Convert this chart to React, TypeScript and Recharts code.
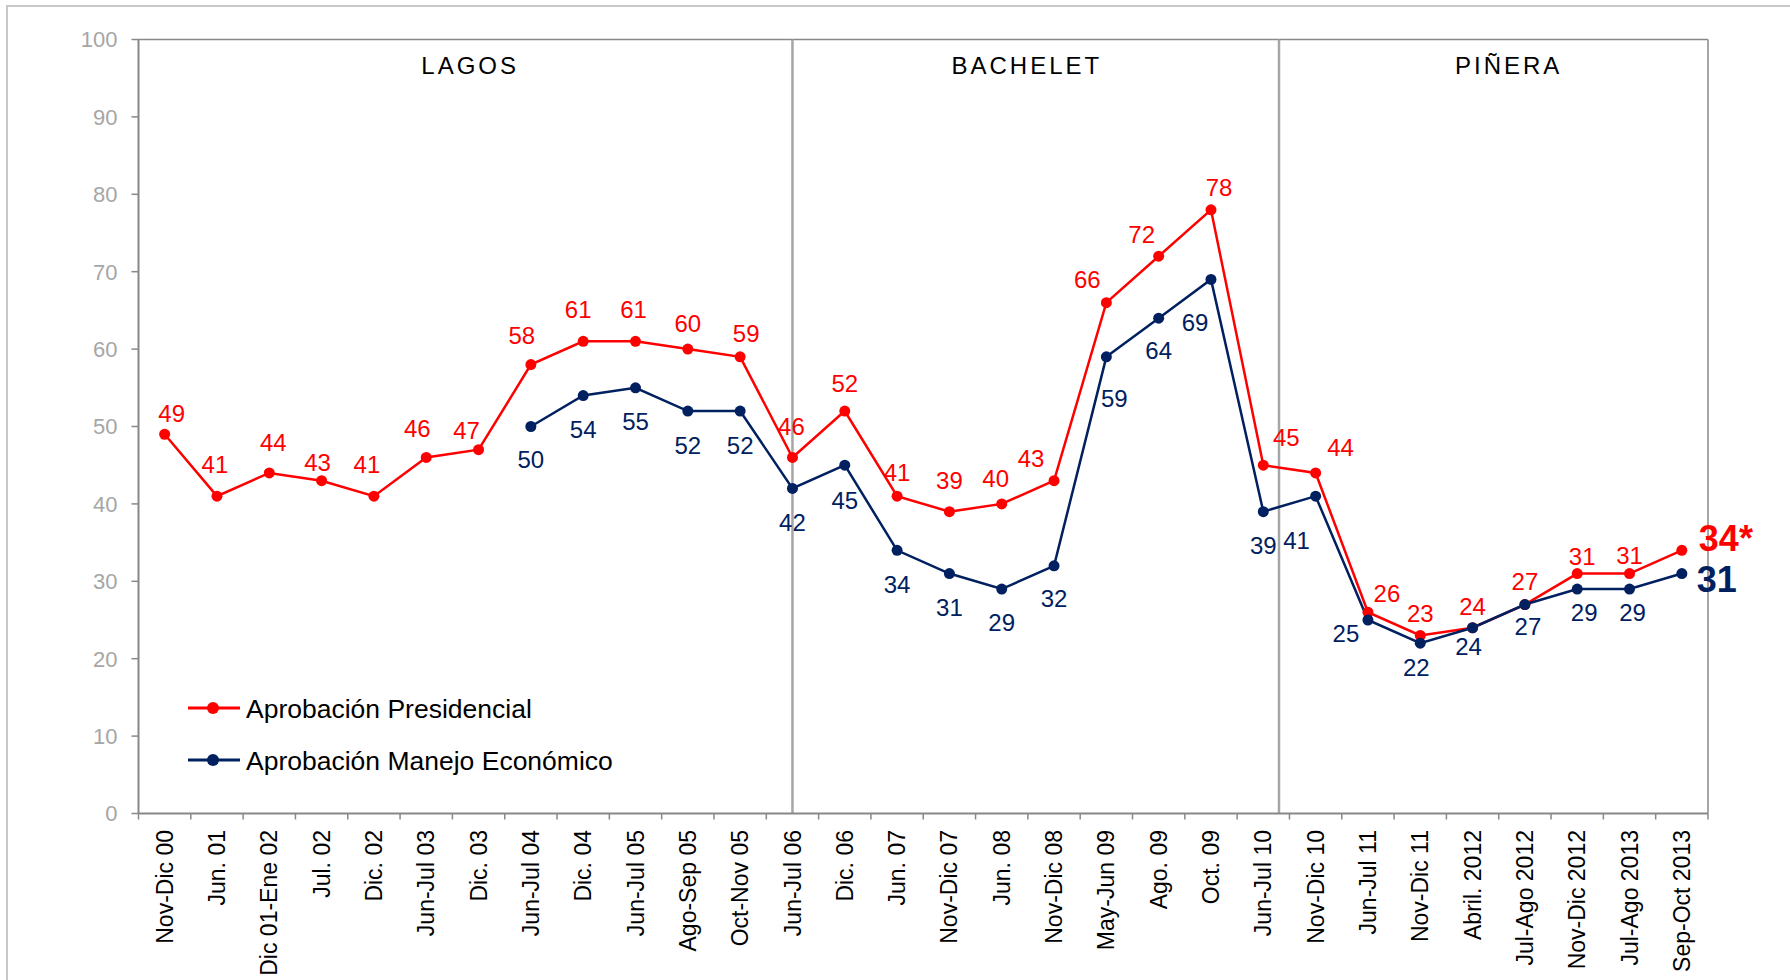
import React from 'react';
import { LineChart, Line, XAxis, YAxis, ReferenceLine, ReferenceDot, LabelList, Legend } from 'recharts';

const categories = [
  'Nov-Dic 00', 'Jun. 01', 'Dic 01-Ene 02', 'Jul. 02', 'Dic. 02', 'Jun-Jul 03', 'Dic. 03',
  'Jun-Jul 04', 'Dic. 04', 'Jun-Jul 05', 'Ago-Sep 05', 'Oct-Nov 05', 'Jun-Jul 06', 'Dic. 06',
  'Jun. 07', 'Nov-Dic 07', 'Jun. 08', 'Nov-Dic 08', 'May-Jun 09', 'Ago. 09', 'Oct. 09',
  'Jun-Jul 10', 'Nov-Dic 10', 'Jun-Jul 11', 'Nov-Dic 11', 'Abril. 2012', 'Jul-Ago 2012',
  'Nov-Dic 2012', 'Jul-Ago 2013', 'Sep-Oct 2013',
];

const presidential = [49, 41, 44, 43, 41, 46, 47, 58, 61, 61, 60, 59, 46, 52, 41, 39, 40, 43, 66, 72, 78, 45, 44, 26, 23, 24, 27, 31, 31, 34];

const economic: (number | null)[] = [null, null, null, null, null, null, null, 50, 54, 55, 52, 52, 42, 45, 34, 31, 29, 32, 59, 64, 69, 39, 41, 25, 22, 24, 27, 29, 29, 31];

const yTicks = [0, 10, 20, 30, 40, 50, 60, 70, 80, 90, 100];

const seriesNames = ['Aprobación Presidencial', 'Aprobación Manejo Económico'];

// x positions are in "band units": category i sits at the centre of band [i, i+1]
const periodNames = ['LAGOS', 'BACHELET', 'PIÑERA'];
const periodCenters = [6.34, 16.98, 26.19];
const periodBreaks = [12.5, 21.8];

// label placement (dx, dy of label centre relative to point), styling only
const presLabelOffsets: [number, number][] = [
  [7, -21], [-2, -32], [4, -31], [-4, -18], [-7, -32], [-9, -29], [-12, -19],
  [-9, -29], [-5, -32], [-2, -32], [0, -26], [6, -23], [-1, -31], [0, -28],
  [0, -24], [0, -31], [-6, -26], [-23, -22], [-19, -23], [-17, -22], [8, -22],
  [23, -28], [25, -26], [19, -19], [0, -22], [0, -21], [0, -23], [5, -17], [0, -18], [17, -12],
];
const econLabelOffsets: [number, number][] = [
  [0, 34], [0, 34], [0, 34], [0, 34], [0, 34], [0, 34], [0, 34],
  [0, 33], [0, 34], [0, 34], [0, 34], [0, 34], [0, 34], [0, 35],
  [0, 34], [0, 34], [0, 33], [0, 33], [8, 42], [0, 32], [-16, 43],
  [0, 34], [-19, 44], [-22, 13], [-4, 24], [-4, 19], [3, 22], [7, 23], [3, 23], [15, 5],
];

const data = categories.map((cat, i) => ({ x: i + 0.5, cat, pres: presidential[i], econ: economic[i] }));

const W = 1790;
const H = 980;
const M_TOP = 39.5;
const M_RIGHT = 82;
const Y_AXIS_W = 138.5;
const X_AXIS_H = 160;
const M_BOTTOM = 6.5;
const PLOT_W = W - Y_AXIS_W - M_RIGHT;
const HALF_BAND = PLOT_W / categories.length / 2;
const X_MIN = 0;
const X_MAX = categories.length;

const RED = '#ff0000';
const NAVY = '#002060';
const AXIS = '#888888';
const SEP = '#a6a6a6';
const FONT = '"Liberation Sans", Arial, sans-serif';

const XTick = (props: any) => {
  const { x, y, payload } = props;
  const idx = Math.round(payload.value - 0.5);
  const label = categories[idx];
  const ty = y + 16.5;
  return (
    <g>
      <line x1={x - HALF_BAND} x2={x - HALF_BAND} y1={y} y2={y + 6} stroke={AXIS} strokeWidth={1.5} />
      {idx === categories.length - 1 && (
        <line x1={x + HALF_BAND} x2={x + HALF_BAND} y1={y} y2={y + 6} stroke={AXIS} strokeWidth={1.5} />
      )}
      <text
        x={x}
        y={ty}
        transform={`rotate(-90 ${x} ${ty})`}
        textAnchor="end"
        dy="0.35em"
        fontSize={23}
        fontFamily={FONT}
        fill="#000"
      >
        {label}
      </text>
    </g>
  );
};

const makeLabel = (offsets: [number, number][], color: string, suffix: string) => (props: any) => {
  const { x, y, value, index } = props;
  if (value == null || x == null || y == null) return null;
  const [dx, dy] = offsets[index] ?? [0, 0];
  const last = index === categories.length - 1;
  if (last) {
    return (
      <text x={x + dx} y={y + dy} dy="0.36em" textAnchor="start" fontSize={36} fontWeight="bold" fontFamily={FONT} fill={color}>
        {value}
        {suffix}
      </text>
    );
  }
  return (
    <text x={x + dx} y={y + dy} dy="0.36em" textAnchor="middle" fontSize={24} fontFamily={FONT} fill={color}>
      {value}
    </text>
  );
};

const LegendContent = () => (
  <svg width={560} height={110} style={{ display: 'block', overflow: 'visible' }}>
    {[RED, NAVY].map((c, k) => (
      <g key={k}>
        <line x1={0} x2={52} y1={25 + k * 52} y2={25 + k * 52} stroke={c} strokeWidth={3} />
        <circle cx={25} cy={25 + k * 52} r={6} fill={c} />
        <text x={58} y={25 + k * 52} dy="0.36em" fontSize={26.5} fontFamily={FONT} fill="#000">
          {seriesNames[k]}
        </text>
      </g>
    ))}
  </svg>
);

export default function App() {
  return (
    <div style={{ position: 'absolute', left: 0, top: 0, width: W, height: H, background: '#fff', fontFamily: FONT }}>
      <div
        style={{
          position: 'absolute',
          left: 6,
          top: 5,
          right: 0,
          bottom: 0,
          borderLeft: '2px solid #c8c8c8',
          borderTop: '2px solid #c8c8c8',
        }}
      />
      <LineChart
        width={W}
        height={H}
        data={data}
        margin={{ top: M_TOP, right: M_RIGHT, left: 0, bottom: M_BOTTOM }}
        style={{ position: 'absolute', left: 0, top: 0 }}
      >
        <XAxis
          dataKey="x"
          type="number"
          domain={[X_MIN, X_MAX]}
          allowDataOverflow
          ticks={categories.map((_, i) => i + 0.5)}
          interval={0}
          height={X_AXIS_H}
          tickSize={0}
          tickMargin={0}
          tickLine={false}
          axisLine={{ stroke: AXIS, strokeWidth: 2 }}
          tick={<XTick />}
        />
        <YAxis
          domain={[0, 100]}
          allowDataOverflow
          ticks={yTicks}
          interval={0}
          width={Y_AXIS_W}
          tickSize={7}
          tickMargin={14}
          tickLine={{ stroke: AXIS, strokeWidth: 1.5 }}
          axisLine={{ stroke: AXIS, strokeWidth: 2 }}
          tick={{ fill: '#a6a6a6', fontSize: 22, fontFamily: FONT }}
        />
        <ReferenceLine y={100} stroke={AXIS} strokeWidth={1.5} ifOverflow="visible" />
        <ReferenceLine x={X_MAX} stroke={AXIS} strokeWidth={1.5} ifOverflow="visible" />
        {periodBreaks.map((b) => (
          <ReferenceLine key={b} x={b} stroke={SEP} strokeWidth={2.5} />
        ))}
        {periodNames.map((name, k) => (
          <ReferenceDot
            key={name}
            x={periodCenters[k]}
            y={96.7}
            r={0}
            fill="none"
            stroke="none"
            label={{ value: name, position: 'center', fill: '#000', fontSize: 24, fontFamily: FONT, letterSpacing: 3 }}
          />
        ))}
        <Line
          dataKey="pres"
          name={seriesNames[0]}
          stroke={RED}
          strokeWidth={2.5}
          dot={{ r: 5.5, fill: RED, stroke: RED, strokeWidth: 0 }}
          activeDot={false}
          isAnimationActive={false}
        >
          <LabelList dataKey="pres" content={makeLabel(presLabelOffsets, RED, '*')} />
        </Line>
        <Line
          dataKey="econ"
          name={seriesNames[1]}
          stroke={NAVY}
          strokeWidth={2.5}
          dot={{ r: 5.5, fill: NAVY, stroke: NAVY, strokeWidth: 0 }}
          activeDot={false}
          isAnimationActive={false}
        >
          <LabelList dataKey="econ" content={makeLabel(econLabelOffsets, NAVY, '')} />
        </Line>
        <Legend
          layout="horizontal"
          verticalAlign="middle"
          align="center"
          wrapperStyle={{ left: 188, top: 683, width: 560, height: 110 }}
          content={<LegendContent />}
        />
      </LineChart>
    </div>
  );
}
